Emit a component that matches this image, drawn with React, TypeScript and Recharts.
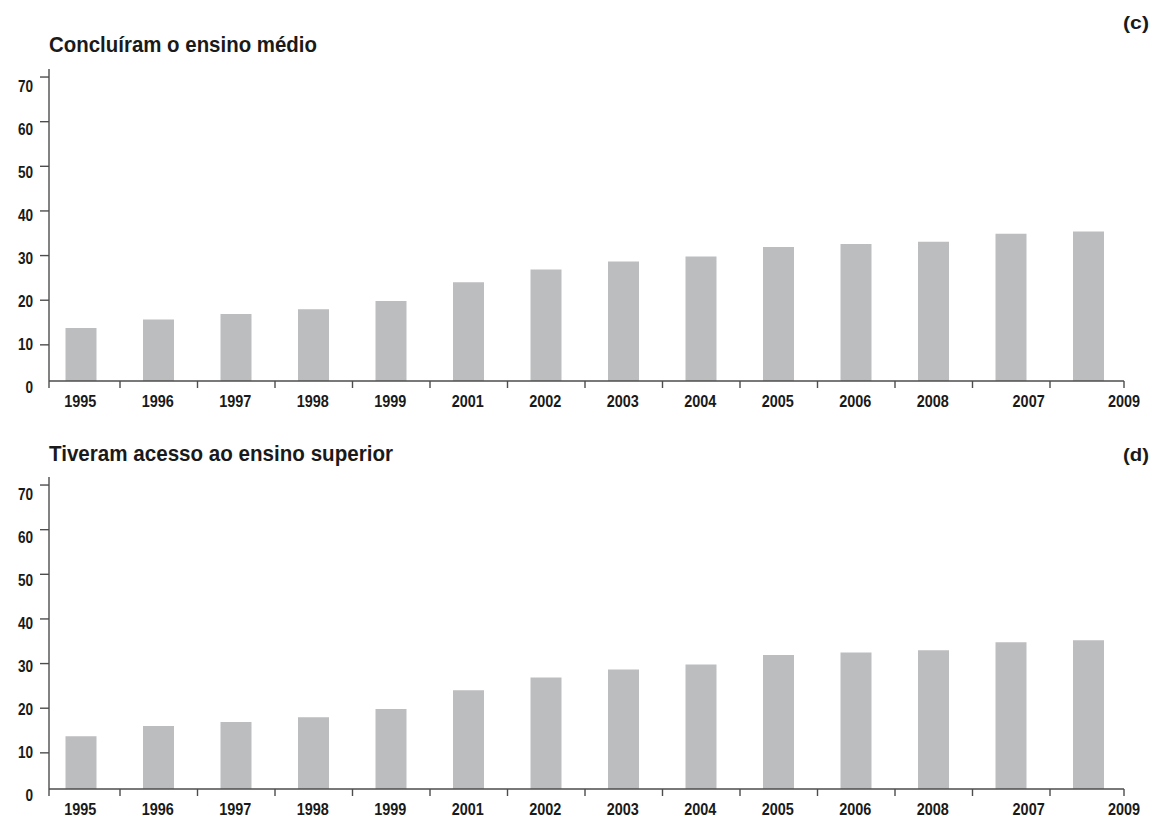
import React from "react";
import { Bar, BarChart, XAxis, YAxis } from "recharts";

const years = [
  "1995", "1996", "1997", "1998", "1999", "2001", "2002",
  "2003", "2004", "2005", "2006", "2008", "2007", "2009",
];
const concluiram = [13.8, 15.7, 16.9, 18.0, 19.8, 24.0, 26.9, 28.7, 29.8, 31.9, 32.6, 33.1, 34.9, 35.4];
const acesso = [13.7, 16.0, 16.9, 18.0, 19.8, 24.0, 26.9, 28.7, 29.8, 31.9, 32.5, 33.0, 34.8, 35.2];
const yTicks = [0, 10, 20, 30, 40, 50, 60, 70];

// no condensed face installed, so Liberation Sans Bold is squeezed horizontally
const FONT = "'Liberation Sans', Arial, sans-serif";
const INK = "#1a1a1a";
const AXIS = "#4d4d4d";
const BAR = "#bcbdbf";
const SQUEEZE = 0.85;

const W = 1152;
const CH = 420;
const PLOT_LEFT = 49;
const PLOT_RIGHT = 1124;

function Narrow({ x, y, size, anchor, children }: any) {
  return (
    <text
      transform={`translate(${x},${y}) scale(${SQUEEZE},1)`}
      textAnchor={anchor}
      fontFamily={FONT}
      fontWeight="bold"
      fontSize={size}
      fill={INK}
    >
      {children}
    </text>
  );
}

function XTick(props: any) {
  const { x, y, payload, index } = props;
  const half = payload?.offset ?? 38.75;
  const n = years.length;
  const right = Math.min(x + half, PLOT_RIGHT);
  let tx = x - 1;
  if (index === n - 1) tx = right;
  else if (index === n - 2) tx = x + half / 2 - 2;
  return (
    <g>
      <line x1={right} x2={right} y1={y} y2={y + 7} stroke={AXIS} strokeWidth={1.4} />
      {index === 0 && (
        <line x1={PLOT_LEFT} x2={PLOT_LEFT} y1={y} y2={y + 7} stroke={AXIS} strokeWidth={1.4} />
      )}
      <Narrow x={tx} y={y + 26} size={17} anchor="middle">
        {payload.value}
      </Narrow>
    </g>
  );
}

function YTick(props: any) {
  const { x, y, payload } = props;
  const v = Number(payload.value);
  return (
    <g>
      {v !== 0 && <line x1={x - 9} x2={x} y1={y} y2={y} stroke={AXIS} strokeWidth={1.4} />}
      <Narrow x={x - 16} y={y + 4 + v * 0.15} size={16} anchor="end">
        {v}
      </Narrow>
    </g>
  );
}

function Panel({ values }: { values: number[] }) {
  const data = years.map((year, i) => ({ year, value: values[i] }));
  return (
    <BarChart
      width={W}
      height={CH}
      data={data}
      margin={{ top: 69, right: W - PLOT_RIGHT, bottom: 9, left: 0 }}
    >
      <XAxis
        dataKey="year"
        height={30}
        padding={{ left: -6.5, right: -3.5 }}
        axisLine={{ stroke: AXIS, strokeWidth: 1.4 }}
        tickLine={false}
        tickSize={0}
        tickMargin={0}
        interval={0}
        tick={<XTick />}
      />
      <YAxis
        type="number"
        width={PLOT_LEFT}
        domain={[1.9, 71.8]}
        ticks={yTicks}
        interval={0}
        axisLine={{ stroke: AXIS, strokeWidth: 1.4 }}
        tickLine={false}
        tickSize={0}
        tickMargin={0}
        tick={<YTick />}
      />
      <Bar dataKey="value" fill={BAR} barSize={31} isAnimationActive={false} />
    </BarChart>
  );
}

export default function App() {
  const t = { fontFamily: FONT, fontWeight: "bold" as const, fill: INK };
  return (
    <div style={{ position: "absolute", left: 0, top: 0, width: W, height: 821, background: "#fff" }}>
      <svg width={W} height={821} style={{ position: "absolute", left: 0, top: 0 }}>
        <text x={1123} y={29} fontSize={18} textLength={26} lengthAdjust="spacingAndGlyphs" {...t}>(c)</text>
        <text x={49} y={52} fontSize={22.5} textLength={268} lengthAdjust="spacingAndGlyphs" {...t}>
          Concluíram o ensino médio
        </text>
        <text x={1123} y={461} fontSize={18} textLength={26} lengthAdjust="spacingAndGlyphs" {...t}>(d)</text>
        <text x={49} y={461} fontSize={22.5} textLength={344} lengthAdjust="spacingAndGlyphs" {...t}>
          Tiveram acesso ao ensino superior
        </text>
      </svg>
      <div style={{ position: "absolute", left: 0, top: 0 }}>
        <Panel values={concluiram} />
      </div>
      <div style={{ position: "absolute", left: 0, top: 408 }}>
        <Panel values={acesso} />
      </div>
    </div>
  );
}
